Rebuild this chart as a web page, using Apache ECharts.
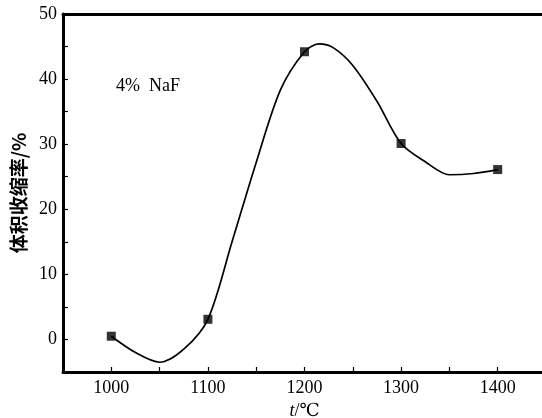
<!DOCTYPE html>
<html><head><meta charset="utf-8">
<script src="https://cdn.jsdelivr.net/npm/echarts@6/dist/echarts.min.js"></script>
<style>html,body{margin:0;padding:0;background:#fff}#c{width:542px;height:418px}</style>
</head><body><div id="c"></div>
<script>
// measured points
const temps = [1000, 1100, 1200, 1300, 1400];
const shrinkage = [0.5, 3.1, 44.2, 30.1, 26.1];
// fitted curve
const curveTemps = [1000, 1025, 1050, 1075, 1100, 1125, 1150, 1175, 1200, 1215, 1230, 1250, 1275, 1300, 1325, 1350, 1375, 1400];
const curveValues = [0.5, -2.0, -3.5, -1.5, 3.1, 15.0, 27.2, 38.3, 44.2, 45.4, 44.8, 42.1, 36.6, 30.1, 27.3, 25.3, 25.5, 26.1];
const xTickLabels = [1000, 1100, 1200, 1300, 1400];
const yTickLabels = [0, 10, 20, 30, 40, 50];

const serif = '"Liberation Serif", "DejaVu Serif", serif';
const chart = echarts.init(document.getElementById('c'));
chart.setOption({
  animation: false,
  backgroundColor: '#fff',
  grid: { left: 63, top: 14, right: -4, bottom: 46, outerBoundsMode: 'none', containLabel: false },
  graphic: [{
    type: 'text', left: 116, top: 77,
    style: { text: '4%  NaF', font: '18px ' + serif, fill: '#000' }
  }],
  xAxis: [{
    type: 'value', min: 950, max: 1450, interval: 50,
    axisLine: { onZero: false, lineStyle: { color: '#000', width: 3 } },
    axisTick: { inside: true, length: 5, lineStyle: { color: '#000', width: 1.2 } },
    splitLine: { show: false },
    axisLabel: {
      color: '#000', fontFamily: serif, fontSize: 18, margin: 7,
      formatter: v => xTickLabels.includes(v) ? String(v) : ''
    },
    name: '{i|t}/℃', nameLocation: 'middle', nameGap: 28,
    nameTextStyle: {
      color: '#000', fontFamily: serif, fontSize: 18,
      rich: { i: { fontStyle: 'italic', fontFamily: serif, fontSize: 18, color: '#000' } }
    }
  }, {
    type: 'value', position: 'top', min: 950, max: 1450,
    axisLine: { show: true, onZero: false, lineStyle: { color: '#000', width: 3 } },
    axisTick: { show: false }, axisLabel: { show: false }, splitLine: { show: false }
  }],
  yAxis: {
    type: 'value', min: -5, max: 50, interval: 5,
    axisLine: { show: true, onZero: false, lineStyle: { color: '#000', width: 3 } },
    axisTick: { show: true, inside: true, length: 5, lineStyle: { color: '#000', width: 1.2 } },
    splitLine: { show: false },
    axisLabel: {
      color: '#000', fontFamily: serif, fontSize: 18, margin: 6,
      formatter: v => yTickLabels.includes(v) ? String(v) : ''
    },
    name: '体积收缩率/%', nameLocation: 'middle', nameGap: 31,
    nameTextStyle: { color: '#000', fontFamily: '"Noto Sans CJK SC", sans-serif', fontSize: 19, fontWeight: 'bold' }
  },
  series: [{
    type: 'line', smooth: 0.3, symbol: 'none',
    data: curveTemps.map((t, i) => [t, curveValues[i]]),
    lineStyle: { color: '#000', width: 1.7 }, z: 2
  }, {
    type: 'scatter', symbol: 'rect', symbolSize: 9,
    data: temps.map((t, i) => [t, shrinkage[i]]),
    itemStyle: { color: '#000' }, z: 3
  }]
});
</script></body></html>
